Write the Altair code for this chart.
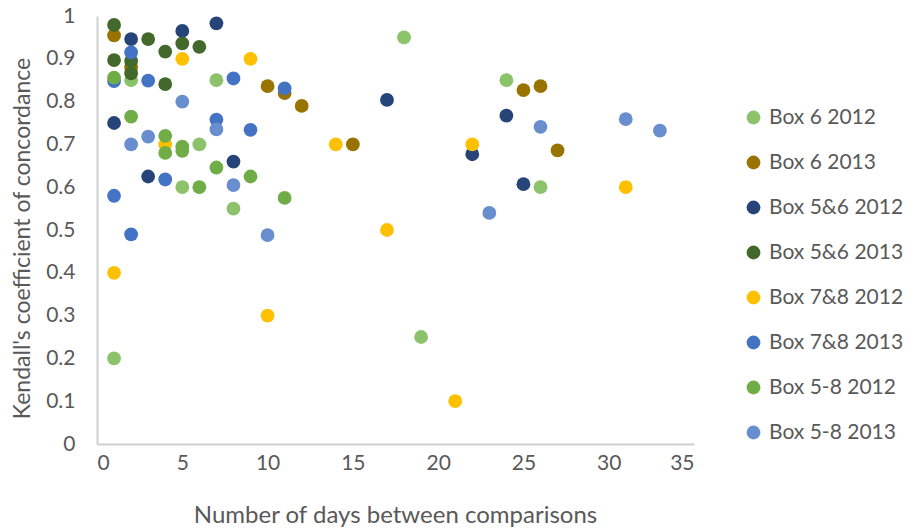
import altair as alt
import pandas as pd

series_names = ["Box 6 2012", "Box 6 2013", "Box 5&6 2012", "Box 5&6 2013",
                "Box 7&8 2012", "Box 7&8 2013", "Box 5-8 2012", "Box 5-8 2013"]
series_colors = ["#8BC26A", "#997300", "#264478", "#43682B",
                 "#FFC000", "#4472C4", "#70AD47", "#698ED0"]

box6_2012_x = [1, 2, 5, 6, 7, 8, 18, 19, 24, 26]
box6_2012_y = [0.20, 0.85, 0.60, 0.70, 0.85, 0.55, 0.95, 0.25, 0.85, 0.60]

box6_2013_x = [1, 2, 10, 11, 12, 15, 25, 26, 27]
box6_2013_y = [0.955, 0.88, 0.836, 0.82, 0.79, 0.70, 0.827, 0.836, 0.686]

box56_2012_x = [1, 2, 3, 5, 7, 8, 17, 22, 24, 25]
box56_2012_y = [0.75, 0.946, 0.625, 0.965, 0.983, 0.66, 0.804, 0.677, 0.767, 0.607]

box56_2013_x = [1, 1, 2, 2, 3, 4, 4, 5, 6]
box56_2013_y = [0.979, 0.897, 0.895, 0.866, 0.946, 0.917, 0.841, 0.936, 0.928]

box78_2012_x = [1, 4, 5, 9, 10, 14, 17, 21, 22, 31]
box78_2012_y = [0.40, 0.70, 0.90, 0.90, 0.30, 0.70, 0.50, 0.10, 0.70, 0.60]

box78_2013_x = [1, 1, 2, 2, 3, 4, 7, 8, 9, 11]
box78_2013_y = [0.848, 0.58, 0.915, 0.49, 0.849, 0.618, 0.758, 0.854, 0.734, 0.831]

box58_2012_x = [1, 2, 4, 4, 5, 5, 6, 7, 9, 11]
box58_2012_y = [0.856, 0.765, 0.72, 0.68, 0.695, 0.685, 0.60, 0.646, 0.625, 0.575]

box58_2013_x = [2, 3, 5, 7, 8, 10, 23, 26, 31, 33]
box58_2013_y = [0.70, 0.718, 0.80, 0.735, 0.605, 0.488, 0.54, 0.741, 0.759, 0.732]

all_x = [box6_2012_x, box6_2013_x, box56_2012_x, box56_2013_x,
         box78_2012_x, box78_2013_x, box58_2012_x, box58_2013_x]
all_y = [box6_2012_y, box6_2013_y, box56_2012_y, box56_2013_y,
         box78_2012_y, box78_2013_y, box58_2012_y, box58_2013_y]

rows = []
order = 0
for name, xs, ys in zip(series_names, all_x, all_y):
    for xv, yv in zip(xs, ys):
        rows.append({"series": name, "days": xv, "w": yv, "order": order})
        order += 1
df = pd.DataFrame(rows)

FONT = "Lato"
TXT = "#595959"

chart = alt.Chart(df).mark_circle(size=190, opacity=1).encode(
    x=alt.X("days:Q",
            scale=alt.Scale(domain=[0, 35], nice=False),
            axis=alt.Axis(values=[0, 5, 10, 15, 20, 25, 30, 35],
                          title="Number of days between comparisons",
                          titleX=298, titleY=71, titleBaseline="middle",
                          titleFontSize=24)),
    y=alt.Y("w:Q",
            scale=alt.Scale(domain=[0, 1], nice=False),
            axis=alt.Axis(values=[0, 0.1, 0.2, 0.3, 0.4, 0.5, 0.6, 0.7, 0.8, 0.9, 1],
                          format="~g",
                          title="Kendall's coefficient of concordance",
                          titleX=-75, titleY=222, titleBaseline="middle",
                          titleAngle=-90, titleAlign="center",
                          titleFontSize=23, labelPadding=22)),
    color=alt.Color("series:N",
                    scale=alt.Scale(domain=series_names, range=series_colors),
                    legend=alt.Legend(title=None, orient="none",
                                      legendX=646, legendY=91,
                                      symbolType="circle", symbolSize=190,
                                      symbolStrokeWidth=0,
                                      labelFontSize=21, labelColor=TXT,
                                      labelFont=FONT, labelOffset=5,
                                      rowPadding=23, padding=0)),
    order=alt.Order("order:Q"),
).properties(
    width=597, height=428,
    autosize=alt.AutoSizeParams(type="none"),
    padding={"left": 97, "top": 16, "right": 216, "bottom": 87},
).configure_view(stroke=None).configure_axis(
    grid=False, ticks=False,
    domainColor="#D0D0D0", domainWidth=2,
    labelFont=FONT, labelFontSize=21, labelColor=TXT,
    titleFont=FONT, titleColor=TXT, titleFontWeight="normal",
).configure_axisX(labelPadding=8)

chart.save("out.html", embed_options={"renderer": "svg", "actions": False})
